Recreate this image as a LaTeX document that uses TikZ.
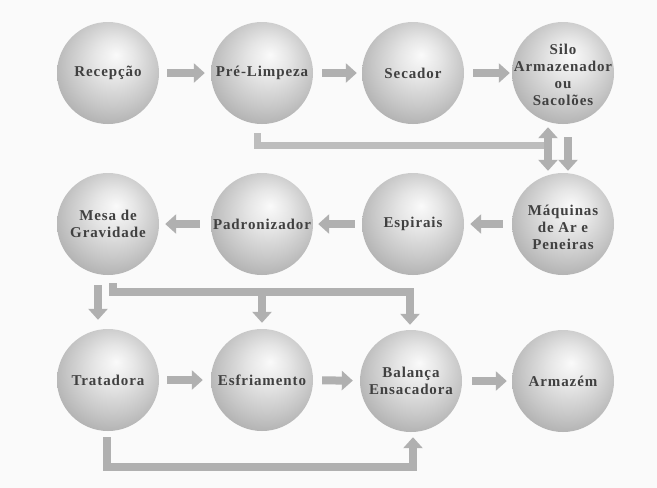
\documentclass[tikz,border=0pt]{standalone}
\usepackage{fontspec}
\setmainfont{Liberation Serif}
\newfontfamily\labfont[LetterSpace=6]{Liberation Serif}
\usetikzlibrary{arrows.meta,calc}
\pgfdeclareradialshading{sph}{\pgfpoint{4bp}{9bp}}{color(0bp)=(black!2); color(10bp)=(black!10); color(22bp)=(black!22); color(32bp)=(black!33); color(50bp)=(black!38)}
\begin{document}
\begin{tikzpicture}[x=1pt,y=-1pt,
  ball/.style={circle, minimum size=102pt, inner sep=0pt, shading=sph},
  lab/.style={font=\labfont\bfseries\fontsize{15}{17}\selectfont, text=black!75, align=center, inner sep=0pt},
  tip/.style={-{Triangle[width=19pt,length=11pt]}},
  flow/.style={draw=black!31, line width=8pt, tip},
  link/.style={draw=black!26, line width=7pt},
]
\fill[black!2] (0,0) rectangle (657,488);
\useasboundingbox (0,0) rectangle (657,488);

% row 1
\node[ball, label={[lab]center:Recepção}] (rec) at (108,73) {};
\node[ball, label={[lab]center:Pré-Limpeza}] (pre) at (262,73) {};
\node[ball, label={[lab]center:Secador}] (sec) at (413,73) {};
\node[ball, label={[lab,yshift=-2pt]center:Silo\\Armazenador\\ou\\Sacolões}] (silo) at (563,73) {};
% row 2
\node[ball, label={[lab]center:Mesa de\\Gravidade}] (mesa) at (108,224) {};
\node[ball, label={[lab]center:Padronizador}] (pad) at (262,224) {};
\node[ball, label={[lab]center:Espirais}] (esp) at (413,224) {};
\node[ball, label={[lab,yshift=-3pt]center:Máquinas\\de Ar e\\Peneiras}] (maq) at (563,224) {};
% row 3
\node[ball, label={[lab]center:Tratadora}] (trat) at (108,380) {};
\node[ball, label={[lab]center:Esfriamento}] (esf) at (262,380) {};
\node[ball, label={[lab]center:Balança\\Ensacadora}] (bal) at (411,381) {};
\node[ball, label={[lab]center:Armazém}] (arm) at (563,381) {};

% row 1 arrows
\draw[flow, shorten <=8pt, shorten >=6pt] (rec) -- (pre);
\draw[flow, shorten <=9pt, shorten >=5pt] (pre) -- (sec);
\draw[flow, shorten <=9pt, shorten >=2pt] (sec) -- (silo);
% silo <-> maquinas
\coordinate (p1) at ($(pre.south)+(-5,9)$);
\draw[link] (p1) |- ($(silo.south)+(-15,21)$);
\draw[flow, {Triangle[width=19pt,length=11pt]}-{Triangle[width=19pt,length=11pt]}] ($(silo.south)+(-15,3)$) -- ($(maq.north)+(-15,-2)$);
\draw[flow] ($(silo.south)+(5,13)$) -- ($(maq.north)+(5,-2)$);
% row 2 arrows
\draw[flow, shorten <=9pt, shorten >=6pt] (maq) -- (esp);
\draw[flow, shorten <=7pt, shorten >=5pt] (esp) -- (pad);
\draw[flow, shorten <=11pt, shorten >=6pt] (pad) -- (mesa);
% row 2 -> row 3
\draw[flow] ($(mesa.south)+(-10,10)$) -- ($(trat.north)+(-10,-9)$);
\coordinate (m1) at ($(mesa.south)+(5,8)$);
\draw[flow] (m1) |- ($(bal.north)+(-1,-38)$) -- ($(bal.north)+(-1,-5)$);
\draw[flow] ($(esf.north)+(0,-37)$) -- ($(esf.north)+(0,-6)$);
% row 3 arrows
\draw[flow, shorten <=8pt, shorten >=8pt] (trat) -- (esf);
\draw[flow, shorten <=9pt, shorten >=7pt] (esf) -- (bal);
\draw[flow, shorten <=10pt, shorten >=5pt] (bal) -- (arm);
% bottom return
\coordinate (t1) at ($(trat.south)+(-1,6)$);
\draw[flow] (t1) |- ($(bal.south)+(2,35)$) -- ($(bal.south)+(2,5)$);
\end{tikzpicture}
\end{document}
